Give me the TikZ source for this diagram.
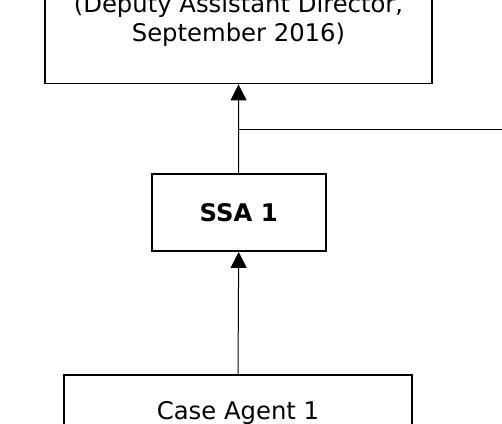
\documentclass[tikz,border=0pt]{standalone}
\usepackage{fontspec}
\setmainfont{DejaVu Sans}
\usetikzlibrary{arrows.meta}
\begin{document}
\begin{tikzpicture}[x=1bp,y=-1bp,
  box/.style={draw=black, line width=1.8bp, fill=white, align=center,
    font=\fontsize{24.3bp}{29bp}\selectfont, inner sep=0pt},
  link/.style={line width=1bp, -{Triangle[width=16bp,length=16bp]}}]
\useasboundingbox (0,0) rectangle (502,423);
\node[box, minimum width=387bp, minimum height=126bp] (dad) at (238.5,20.5)
  {(Deputy Assistant Director,\\September 2016)};
\node[box, minimum width=174bp, minimum height=77bp, font=\fontsize{24.3bp}{29bp}\selectfont\bfseries] (ssa) at (238.7,212.5) {SSA 1};
\node[box, minimum width=348bp, minimum height=76bp, anchor=north] (ca) at (238,374) {Case Agent 1};
\draw[link] (ssa.north) -- (dad.south);
\draw[link] (ca.north) -- (ssa.south);
\coordinate (j) at (ssa.north |- 0,129);
\coordinate (r) at (505,129);
\draw[line width=1bp] (j) -- (r);
\end{tikzpicture}
\end{document}
